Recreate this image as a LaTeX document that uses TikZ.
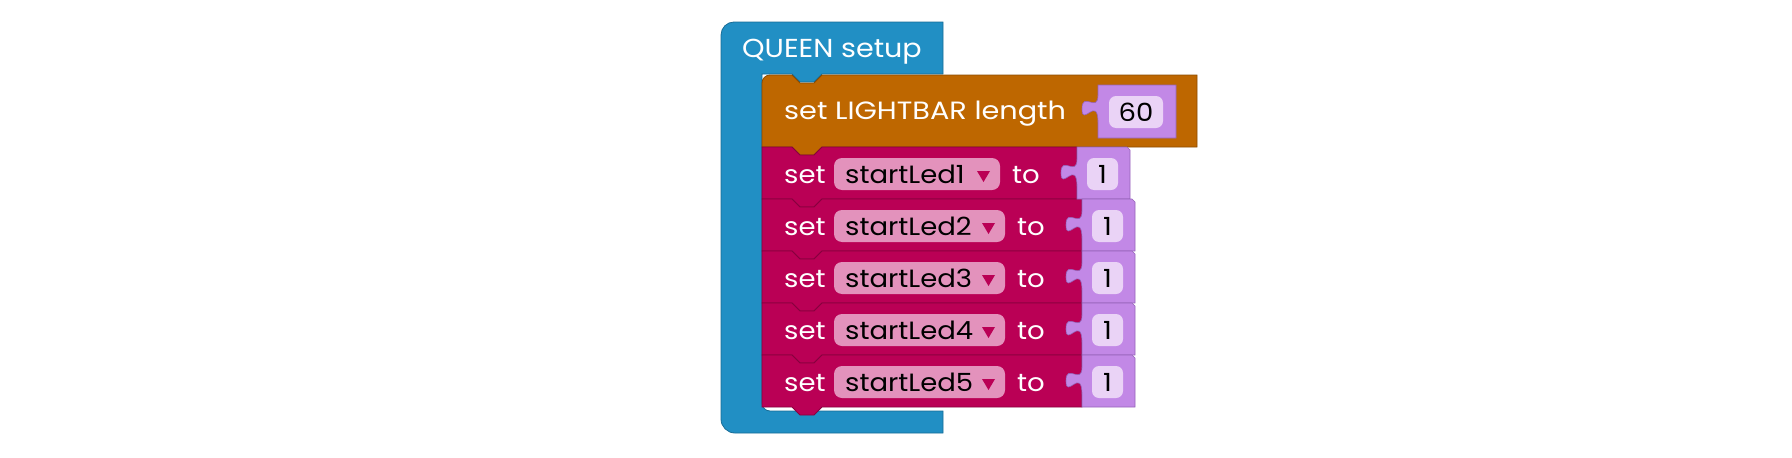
\documentclass[tikz,border=0pt]{standalone}
\usepackage{fontspec}
\setmainfont{Poppins}[FakeStretch=1.1]
\definecolor{qblue}{RGB}{33,143,196}
\definecolor{qbluedk}{RGB}{24,108,150}
\definecolor{qorange}{RGB}{190,103,0}
\definecolor{qorangedk}{RGB}{140,76,0}
\definecolor{qmag}{RGB}{186,0,85}
\definecolor{qmagdk}{RGB}{135,0,62}
\definecolor{qpill}{RGB}{227,146,188}
\definecolor{qpurple}{RGB}{194,136,230}
\definecolor{qpurpledk}{RGB}{150,100,185}
\definecolor{qval}{RGB}{234,211,246}
\tikzset{
  blueblock/.style={fill=qblue,draw=qbluedk,line width=0.8pt},
  orangeblock/.style={fill=qorange,draw=qorangedk,line width=0.8pt},
  magblock/.style={fill=qmag,draw=qmagdk,line width=0.8pt},
  purpleblock/.style={fill=qpurple,draw=qpurpledk,line width=0.6pt},
  pillbox/.style={fill=qpill,rounded corners=8pt},
  valbox/.style={fill=qval,rounded corners=7pt},
  wlabel/.style={anchor=base west,inner sep=0pt,text=white,font=\fontsize{25}{30}\selectfont},
  blabel/.style={anchor=base west,inner sep=0pt,text=black,font=\fontsize{25}{30}\selectfont},
  clabel/.style={anchor=base,inner sep=0pt,text=black,font=\fontsize{25}{30}\selectfont},
}
\begin{document}
\begin{tikzpicture}[x=1pt,y=-1pt]
\useasboundingbox (0,0) rectangle (1792,458);
% C-shaped setup block
\path[blueblock] (721,35) .. controls (721,27.8) and (726.8,22) .. (734,22)
  -- (943,22) -- (943,74) -- (822,74) -- (814,82) -- (800,82) -- (792,74) -- (762,74)
  -- (762,403) .. controls (762,407.4) and (765.6,411) .. (770,411)
  -- (943,411) -- (943,433) -- (735,433)
  .. controls (727.3,433) and (721,426.7) .. (721,419) -- cycle;
\node[wlabel,font=\fontsize{26}{30}\selectfont] (title) at (742,57) {QUEEN setup};
% orange block
\path[orangeblock] (762,83) .. controls (762,78.6) and (765.6,75) .. (770,75)
  -- (792,75) -- (800,83) -- (814,83) -- (822,75) -- (1197,75) -- (1197,147)
  -- (822,147) -- (814,155) -- (800,155) -- (792,147) -- (762,147) -- cycle;
\node[wlabel] (lightbar) at (784,119) {\scalebox{1.045}[1]{set LIGHTBAR length}};
% purple 60 block (tab top at 95)
\path[purpleblock] (1098,85) -- (1176,85) -- (1176,138) -- (1098,138) -- (1098,123)
  .. controls (1098,94.1) and (1082,127.7) .. (1082,109)
  .. controls (1082,90.3) and (1098,113.7) .. (1098,95) -- cycle;
\fill[valbox] (1109,96) rectangle (1163,128);
\node[clabel] (v60) at (1136,121) {60};
% rows
\foreach \i/\d/\n in {0/0/1,1/5/2,2/5/3,3/5/4,4/5/5}{
  \pgfmathsetmacro{\T}{147+52*\i}
  \pgfmathsetmacro{\B}{\T+52}
  \pgfmathsetmacro{\R}{1077+\d}
  \path[magblock] (762,\T) -- (792,\T) -- (800,\T+8) -- (814,\T+8) -- (822,\T) -- (\R,\T)
    -- (\R,\B) -- (822,\B) -- (814,\B+8) -- (800,\B+8) -- (792,\B) -- (762,\B) -- cycle;
}
\foreach \i/\d/\n in {0/0/1,1/5/2,2/5/3,3/5/4,4/5/5}{
  \pgfmathsetmacro{\T}{147+52*\i}
  \pgfmathsetmacro{\B}{\T+52}
  \pgfmathsetmacro{\X}{1077+\d}
  \pgfmathsetmacro{\RR}{1130+\d}
  \pgfmathsetmacro{\Yt}{\T+12}
  \path[purpleblock] (\X,\T) -- (\RR-3,\T) -- (\RR,\T+3) -- (\RR,\B) -- (\X,\B) -- (\X,\Yt+28)
    .. controls (\X,\Yt-0.9) and (\X-16,\Yt+32.7) .. (\X-16,\Yt+14)
    .. controls (\X-16,\Yt-4.7) and (\X,\Yt+18.7) .. (\X,\Yt) -- cycle;
  \node[wlabel] (set\n) at (784,\T+36) {set};
  \fill[pillbox] (834,\T+11) rectangle (1000+\d,\T+43);
  \node[blabel] (var\n) at (845,\T+36) {startLed\n};
  \fill[qmag] (977+\d,\T+24) -- (990+\d,\T+24) -- (983.5+\d,\T+35) -- cycle;
  \node[wlabel] (to\n) at (1012+\d,\T+36) {to};
  \fill[valbox] (1087+\d,\T+11) rectangle (1118+\d,\T+43);
  \node[clabel] (one\n) at (1102.5+\d,\T+36) {1};
}
\end{tikzpicture}
\end{document}
